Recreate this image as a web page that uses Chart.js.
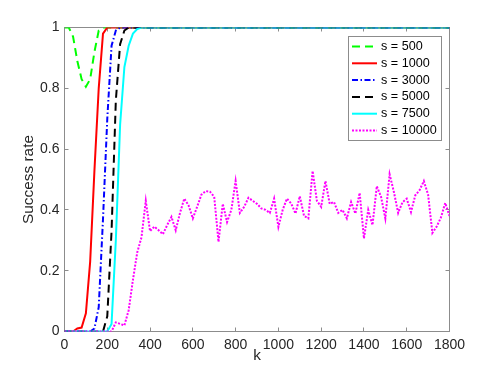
<!DOCTYPE html>
<html>
<head>
<meta charset="utf-8">
<title>Success rate vs k</title>
<script src="https://cdn.jsdelivr.net/npm/chart.js@4.4.1/dist/chart.umd.min.js"></script>
<style>
    html, body { margin: 0; padding: 0; background: #ffffff; }
    #wrap { width: 498px; height: 374px; }
</style>
</head>
<body>
<div id="wrap"><canvas id="rateChart" width="498" height="374"></canvas></div>
<script>
// x positions (k) shared by all series
const kValues = [
    0, 20, 40, 60, 80, 100, 120, 140, 160, 180,
    200, 220, 240, 260, 280, 300, 320, 340, 360, 380,
    400, 420, 440, 460, 480, 500, 520, 540, 560, 580,
    600, 620, 640, 660, 680, 700, 720, 740, 760, 780,
    800, 820, 840, 860, 880, 900, 920, 940, 960, 980,
    1000, 1020, 1040, 1060, 1080, 1100, 1120, 1140, 1160, 1180,
    1200, 1220, 1240, 1260, 1280, 1300, 1320, 1340, 1360, 1380,
    1400, 1420, 1440, 1460, 1480, 1500, 1520, 1540, 1560, 1580,
    1600, 1620, 1640, 1660, 1680, 1700, 1720, 1740, 1760, 1780,
    1800
];

// success rate per series (same order as kValues)
const s500 = [
    1, 1, 0.97, 0.89, 0.83, 0.805, 0.83, 0.92, 0.99, 1,
    1, 1, 1, 1, 1, 1, 1, 1, 1, 1,
    1, 1, 1, 1, 1, 1, 1, 1, 1, 1,
    1, 1, 1, 1, 1, 1, 1, 1, 1, 1,
    1, 1, 1, 1, 1, 1, 1, 1, 1, 1,
    1, 1, 1, 1, 1, 1, 1, 1, 1, 1,
    1, 1, 1, 1, 1, 1, 1, 1, 1, 1,
    1, 1, 1, 1, 1, 1, 1, 1, 1, 1,
    1, 1, 1, 1, 1, 1, 1, 1, 1, 1,
    1
];
const s1000 = [
    0, 0, 0, 0.01, 0.013, 0.06, 0.23, 0.53, 0.80, 0.98,
    1, 1, 1, 1, 1, 1, 1, 1, 1, 1,
    1, 1, 1, 1, 1, 1, 1, 1, 1, 1,
    1, 1, 1, 1, 1, 1, 1, 1, 1, 1,
    1, 1, 1, 1, 1, 1, 1, 1, 1, 1,
    1, 1, 1, 1, 1, 1, 1, 1, 1, 1,
    1, 1, 1, 1, 1, 1, 1, 1, 1, 1,
    1, 1, 1, 1, 1, 1, 1, 1, 1, 1,
    1, 1, 1, 1, 1, 1, 1, 1, 1, 1,
    1
];
const s3000 = [
    0, 0, 0, 0, 0, 0, 0, 0.01, 0.08, 0.37,
    0.70, 0.94, 0.99, 1, 1, 1, 1, 1, 1, 1,
    1, 1, 1, 1, 1, 1, 1, 1, 1, 1,
    1, 1, 1, 1, 1, 1, 1, 1, 1, 1,
    1, 1, 1, 1, 1, 1, 1, 1, 1, 1,
    1, 1, 1, 1, 1, 1, 1, 1, 1, 1,
    1, 1, 1, 1, 1, 1, 1, 1, 1, 1,
    1, 1, 1, 1, 1, 1, 1, 1, 1, 1,
    1, 1, 1, 1, 1, 1, 1, 1, 1, 1,
    1
];
const s5000 = [
    0, 0, 0, 0, 0, 0, 0, 0, 0, 0,
    0.05, 0.33, 0.76, 0.945, 0.99, 1, 1, 1, 1, 1,
    1, 1, 1, 1, 1, 1, 1, 1, 1, 1,
    1, 1, 1, 1, 1, 1, 1, 1, 1, 1,
    1, 1, 1, 1, 1, 1, 1, 1, 1, 1,
    1, 1, 1, 1, 1, 1, 1, 1, 1, 1,
    1, 1, 1, 1, 1, 1, 1, 1, 1, 1,
    1, 1, 1, 1, 1, 1, 1, 1, 1, 1,
    1, 1, 1, 1, 1, 1, 1, 1, 1, 1,
    1
];
const s7500 = [
    0, 0, 0, 0, 0, 0, 0, 0, 0, 0,
    0, 0.025, 0.30, 0.68, 0.87, 0.94, 0.98, 0.995, 1, 1,
    1, 1, 1, 1, 1, 1, 1, 1, 1, 1,
    1, 1, 1, 1, 1, 1, 1, 1, 1, 1,
    1, 1, 1, 1, 1, 1, 1, 1, 1, 1,
    1, 1, 1, 1, 1, 1, 1, 1, 1, 1,
    1, 1, 1, 1, 1, 1, 1, 1, 1, 1,
    1, 1, 1, 1, 1, 1, 1, 1, 1, 1,
    1, 1, 1, 1, 1, 1, 1, 1, 1, 1,
    1
];
const s10000 = [
    0, 0, 0, 0, 0, 0, 0, 0, 0, 0,
    0, 0, 0.03, 0.025, 0.02, 0.07, 0.17, 0.26, 0.31, 0.43,
    0.33, 0.345, 0.333, 0.32, 0.35, 0.377, 0.333, 0.39, 0.437, 0.415,
    0.372, 0.41, 0.45, 0.462, 0.46, 0.443, 0.295, 0.42, 0.36, 0.40,
    0.495, 0.39, 0.41, 0.44, 0.43, 0.42, 0.405, 0.40, 0.39, 0.437,
    0.344, 0.40, 0.437, 0.421, 0.388, 0.445, 0.38, 0.372, 0.528, 0.43,
    0.41, 0.495, 0.42, 0.426, 0.39, 0.40, 0.372, 0.426, 0.388, 0.456,
    0.306, 0.40, 0.35, 0.478, 0.443, 0.372, 0.517, 0.459, 0.39, 0.425,
    0.437, 0.393, 0.448, 0.465, 0.495, 0.45, 0.324, 0.345, 0.375, 0.423,
    0.38
];

const xTicks = [0, 200, 400, 600, 800, 1000, 1200, 1400, 1600, 1800];
const yTicks = [0, 0.2, 0.4, 0.6, 0.8, 1];

const FONT = '"Liberation Sans", Arial, Helvetica, sans-serif';
const TEXT = '#262626';
const AXIS = '#8c8c8c';

function toPoints(values) {
    return kValues.map(function(k, i) { return { x: k, y: values[i] }; });
}

function makeSet(label, values, color, dash, order) {
    return {
        label: label,
        data: toPoints(values),
        borderColor: color,
        backgroundColor: color,
        borderWidth: 2,
        borderDash: dash,
        borderCapStyle: 'butt',
        pointRadius: 0,
        tension: 0,
        fill: false,
        order: order
    };
}

// box with inward ticks on all four sides, like the original figure
const boxAxes = {
    id: 'boxAxes',
    beforeDatasetsDraw: function(chart) {
        const ctx = chart.ctx;
        const a = chart.chartArea;
        const xs = chart.scales.x;
        const ys = chart.scales.y;
        const len = 4;
        ctx.save();
        ctx.strokeStyle = AXIS;
        ctx.lineWidth = 1;
        ctx.beginPath();
        xTicks.forEach(function(v) {
            const px = Math.floor(xs.getPixelForValue(v)) + 0.5;
            ctx.moveTo(px, a.bottom);
            ctx.lineTo(px, a.bottom - len);
            ctx.moveTo(px, a.top);
            ctx.lineTo(px, a.top + len);
        });
        yTicks.forEach(function(v) {
            const py = Math.floor(ys.getPixelForValue(v)) + 0.5;
            ctx.moveTo(a.left, py);
            ctx.lineTo(a.left + len, py);
            ctx.moveTo(a.right, py);
            ctx.lineTo(a.right - len, py);
        });
        ctx.stroke();
        ctx.strokeRect(a.left, a.top, a.right - a.left, a.bottom - a.top);
        ctx.restore();
    }
};

// legend box inside the plot, top right
const boxLegend = {
    id: 'boxLegend',
    afterDatasetsDraw: function(chart) {
        const ctx = chart.ctx;
        const left = 348.5, top = 36.5, width = 93, height = 104;
        const rowY = 46.5, rowStep = 16.8;
        ctx.save();
        ctx.fillStyle = '#ffffff';
        ctx.fillRect(left, top, width, height);
        ctx.strokeStyle = AXIS;
        ctx.lineWidth = 1;
        ctx.strokeRect(left, top, width, height);
        ctx.font = '12.6px ' + FONT;
        ctx.textBaseline = 'middle';
        ctx.textAlign = 'left';
        chart.data.datasets.forEach(function(ds, i) {
            const y = rowY + i * rowStep;
            ctx.beginPath();
            ctx.strokeStyle = ds.borderColor;
            ctx.lineWidth = ds.borderWidth;
            ctx.setLineDash(ds.borderDash);
            ctx.moveTo(352, y);
            ctx.lineTo(377, y);
            ctx.stroke();
            ctx.setLineDash([]);
            ctx.fillStyle = '#000000';
            ctx.fillText(ds.label, 381, y);
        });
        ctx.restore();
    }
};

function initChart() {
    const canvas = document.getElementById('rateChart');
    if (!canvas) {
        console.warn('Chart canvas not found');
        return;
    }
    if (typeof Chart === 'undefined') {
        console.warn('Chart.js is not loaded');
        return;
    }

    new Chart(canvas, {
        type: 'line',
        data: {
            datasets: [
                makeSet('s = 500', s500, '#00ff00', [8, 5], 6),
                makeSet('s = 1000', s1000, '#ff0000', [], 5),
                makeSet('s = 3000', s3000, '#0000ff', [6, 2.5, 1.5, 2.5], 4),
                makeSet('s = 5000', s5000, '#000000', [8, 5], 3),
                makeSet('s = 7500', s7500, '#00ffff', [], 2),
                makeSet('s = 10000', s10000, '#ff00ff', [2, 1.5], 1)
            ]
        },
        options: {
            responsive: false,
            animation: false,
            layout: {
                padding: { left: 0, top: 27.5, right: 48.5, bottom: 0 }
            },
            plugins: {
                legend: { display: false },
                tooltip: { enabled: false }
            },
            scales: {
                x: {
                    type: 'linear',
                    min: 0,
                    max: 1800,
                    afterFit: function(scale) { scale.height = 42.5; },
                    afterBuildTicks: function(scale) {
                        scale.ticks = xTicks.map(function(v) { return { value: v }; });
                    },
                    grid: { display: false, drawTicks: false },
                    border: { display: false },
                    ticks: {
                        padding: 5.5,
                        color: TEXT,
                        maxRotation: 0,
                        autoSkip: false,
                        font: { family: FONT, size: 14 },
                        callback: function(v) { return String(v); }
                    },
                    title: {
                        display: true,
                        text: 'k',
                        color: TEXT,
                        font: { family: FONT, size: 15.4 },
                        padding: { top: 0, bottom: 9.5 }
                    }
                },
                y: {
                    type: 'linear',
                    min: 0,
                    max: 1,
                    afterFit: function(scale) { scale.width = 64.5; },
                    afterBuildTicks: function(scale) {
                        scale.ticks = yTicks.map(function(v) { return { value: v }; });
                    },
                    grid: { display: false, drawTicks: false },
                    border: { display: false },
                    ticks: {
                        padding: 5,
                        color: TEXT,
                        font: { family: FONT, size: 14 },
                        callback: function(v) { return String(Math.round(v * 10) / 10); }
                    },
                    title: {
                        display: true,
                        text: 'Success rate',
                        color: TEXT,
                        font: { family: FONT, size: 15.4 },
                        padding: { top: 19.3, bottom: 0 }
                    }
                }
            }
        },
        plugins: [boxAxes, boxLegend]
    });
}

if (document.readyState === 'loading') {
    document.addEventListener('DOMContentLoaded', initChart);
} else {
    initChart();
}
</script>
</body>
</html>
